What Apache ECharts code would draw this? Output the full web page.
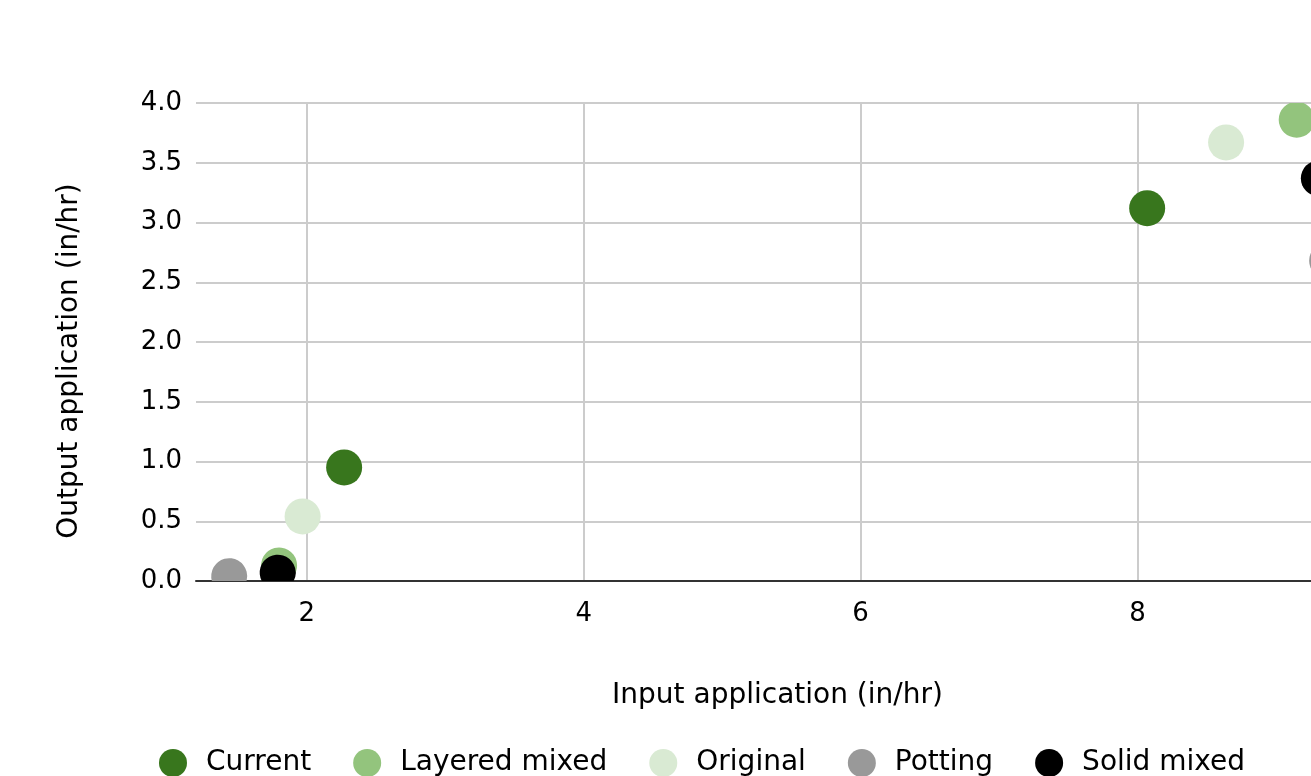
<!DOCTYPE html>
<html>
<head>
<meta charset="utf-8">
<script src="https://cdn.jsdelivr.net/npm/echarts@6/dist/echarts.min.js"></script>
<style>
  html, body { margin: 0; padding: 0; background: #ffffff; overflow: hidden; width: 1311px; height: 776px; }
  #chart { width: 1359px; height: 776px; }
</style>
</head>
<body>
<div id="chart"></div>
<script>
const seriesNames = ['Current', 'Layered mixed', 'Original', 'Potting', 'Solid mixed'];
const seriesColors = ['#38761d', '#93c47d', '#d9ead3', '#999999', '#000000'];

const currentX = [2.27, 8.07];
const currentY = [0.95, 3.12];
const layeredX = [1.80, 9.15];
const layeredY = [0.13, 3.86];
const originalX = [1.97, 8.64];
const originalY = [0.54, 3.67];
const pottingX = [1.44, 9.37];
const pottingY = [0.04, 2.68];
const solidX = [1.79, 9.31];
const solidY = [0.07, 3.37];

const xValues = [currentX, layeredX, originalX, pottingX, solidX];
const yValues = [currentY, layeredY, originalY, pottingY, solidY];

const xAxisTitle = 'Input application (in/hr)';
const yAxisTitle = 'Output application (in/hr)';

const FONT = '"DejaVu Sans", Verdana, sans-serif';
const R = 18;

const chart = echarts.init(document.getElementById('chart'), null, { renderer: 'canvas' });

// Circle clipped at the x axis (bottom of the plot area)
function renderDot(params, api) {
  const p = api.coord([api.value(0), api.value(1)]);
  const yBase = api.coord([api.value(0), 0])[1];
  const cx = p[0], cy = p[1];
  const fill = api.visual('color');
  if (cy + R <= yBase) {
    return { type: 'circle', shape: { cx: cx, cy: cy, r: R }, style: { fill: fill } };
  }
  const dy = yBase - cy;
  const half = Math.sqrt(Math.max(R * R - dy * dy, 0));
  const x1 = cx - half, x2 = cx + half;
  const large = dy > 0 ? 1 : 0;
  const d = 'M' + x1 + ' ' + yBase + ' A' + R + ' ' + R + ' 0 ' + large + ' 1 ' + x2 + ' ' + yBase + ' Z';
  return { type: 'path', shape: { pathData: d }, style: { fill: fill } };
}

const series = seriesNames.map((name, i) => ({
  name: name,
  type: 'custom',
  clip: true,
  itemStyle: { color: seriesColors[i] },
  data: xValues[i].map((x, j) => [x, yValues[i][j]]),
  renderItem: renderDot
}));

chart.setOption({
  animation: false,
  backgroundColor: '#ffffff',
  textStyle: { fontFamily: FONT },
  grid: { left: 196, right: 0, top: 103, bottom: 195, containLabel: false },
  xAxis: {
    type: 'value',
    min: 1.2,
    max: 9.6,
    splitNumber: 4,
    name: xAxisTitle,
    nameLocation: 'middle',
    nameGap: 101,
    nameTextStyle: { fontSize: 28, color: '#000', fontFamily: FONT },
    axisLine: { show: true, lineStyle: { color: '#333333', width: 2 } },
    axisTick: { show: false },
    axisLabel: {
      showMinLabel: false,
      showMaxLabel: false,
      fontSize: 26,
      color: '#000',
      margin: 20,
      fontFamily: FONT
    },
    splitLine: {
      show: true,
      lineStyle: { color: ['rgba(0,0,0,0)', '#cccccc', '#cccccc', '#cccccc', '#cccccc', '#cccccc', '#cccccc', '#cccccc'], width: 2 }
    }
  },
  yAxis: {
    type: 'value',
    min: 0,
    max: 4,
    interval: 0.5,
    name: yAxisTitle,
    nameLocation: 'middle',
    nameGap: 112,
    nameTextStyle: { fontSize: 28, color: '#000', fontFamily: FONT, padding: [0, 38, 0, 0] },
    axisLine: { show: false },
    axisTick: { show: false },
    axisLabel: {
      fontSize: 26,
      color: '#000',
      margin: 14,
      fontFamily: FONT,
      formatter: v => v.toFixed(1)
    },
    splitLine: { show: true, lineStyle: { color: '#cccccc', width: 2 } }
  },
  legend: {
    data: seriesNames.map(n => ({ name: n, icon: 'circle' })),
    left: 154,
    top: 744,
    itemWidth: 56,
    itemHeight: 28,
    itemGap: 42,
    textStyle: { fontSize: 28, color: '#000', fontFamily: FONT }
  },
  series: series
});
</script>
</body>
</html>
